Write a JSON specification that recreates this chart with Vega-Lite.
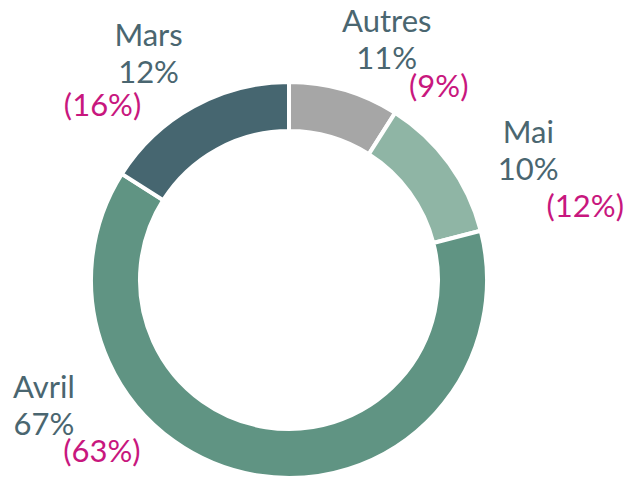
{
  "$schema": "https://vega.github.io/schema/vega-lite/v6.json",
  "width": 392,
  "height": 392,
  "autosize": {"type": "none"},
  "padding": {"left": 93, "top": 84, "right": 139, "bottom": 2},
  "background": "white",
  "config": {"view": {"stroke": null}},
  "data": {
    "values": [
      {"cat": "Autres", "idx": 1, "value": 9, "label": "Autres\n11%", "prev": "(9%)"},
      {"cat": "Mai", "idx": 2, "value": 12, "label": "Mai\n10%", "prev": "(12%)"},
      {"cat": "Avril", "idx": 3, "value": 63, "label": "Avril\n67%", "prev": "(63%)"},
      {"cat": "Mars", "idx": 4, "value": 16, "label": "Mars\n12%", "prev": "(16%)"}
    ]
  },
  "encoding": {
    "theta": {"field": "value", "type": "quantitative", "stack": true},
    "order": {"field": "idx", "type": "quantitative"}
  },
  "layer": [
    {
      "mark": {"type": "arc", "outerRadius": 198, "innerRadius": 149, "stroke": "white", "strokeWidth": 4},
      "encoding": {
        "color": {
          "field": "cat", "type": "nominal", "legend": null,
          "scale": {"domain": ["Autres", "Mai", "Avril", "Mars"], "range": ["#a6a6a6", "#8fb5a5", "#609483", "#466670"]}
        }
      }
    },
    {
      "mark": {"type": "text", "radius": 250, "dx": 28, "dy": -8, "align": "center", "baseline": "alphabetic", "font": "Lato", "fontSize": 31, "lineHeight": 37, "lineBreak": "\n", "color": "#4a6670"},
      "encoding": {"text": {"condition": {"test": "datum.cat === 'Autres'", "field": "label"}, "value": ""}}
    },
    {
      "mark": {"type": "text", "radius": 250, "dx": 37, "dy": 10, "align": "center", "baseline": "alphabetic", "font": "Lato", "fontSize": 31, "lineHeight": 37, "lineBreak": "\n", "color": "#4a6670"},
      "encoding": {"text": {"condition": {"test": "datum.cat === 'Mai'", "field": "label"}, "value": ""}}
    },
    {
      "mark": {"type": "text", "radius": 250, "dx": -206, "dy": -129, "align": "center", "baseline": "alphabetic", "font": "Lato", "fontSize": 31, "lineHeight": 37, "lineBreak": "\n", "color": "#4a6670"},
      "encoding": {"text": {"condition": {"test": "datum.cat === 'Avril'", "field": "label"}, "value": ""}}
    },
    {
      "mark": {"type": "text", "radius": 250, "dx": -20, "dy": -15, "align": "center", "baseline": "alphabetic", "font": "Lato", "fontSize": 31, "lineHeight": 37, "lineBreak": "\n", "color": "#4a6670"},
      "encoding": {"text": {"condition": {"test": "datum.cat === 'Mars'", "field": "label"}, "value": ""}}
    },
    {
      "mark": {"type": "text", "radius": 250, "dx": 80, "dy": 57, "align": "center", "baseline": "alphabetic", "font": "Lato", "fontSize": 31, "color": "#c8177e"},
      "encoding": {"text": {"condition": {"test": "datum.cat === 'Autres'", "field": "prev"}, "value": ""}}
    },
    {
      "mark": {"type": "text", "radius": 250, "dx": 94, "dy": 84, "align": "center", "baseline": "alphabetic", "font": "Lato", "fontSize": 31, "color": "#c8177e"},
      "encoding": {"text": {"condition": {"test": "datum.cat === 'Mai'", "field": "prev"}, "value": ""}}
    },
    {
      "mark": {"type": "text", "radius": 250, "dx": -148, "dy": -65, "align": "center", "baseline": "alphabetic", "font": "Lato", "fontSize": 31, "color": "#c8177e"},
      "encoding": {"text": {"condition": {"test": "datum.cat === 'Avril'", "field": "prev"}, "value": ""}}
    },
    {
      "mark": {"type": "text", "radius": 250, "dx": -66, "dy": 55, "align": "center", "baseline": "alphabetic", "font": "Lato", "fontSize": 31, "color": "#c8177e"},
      "encoding": {"text": {"condition": {"test": "datum.cat === 'Mars'", "field": "prev"}, "value": ""}}
    }
  ]
}
